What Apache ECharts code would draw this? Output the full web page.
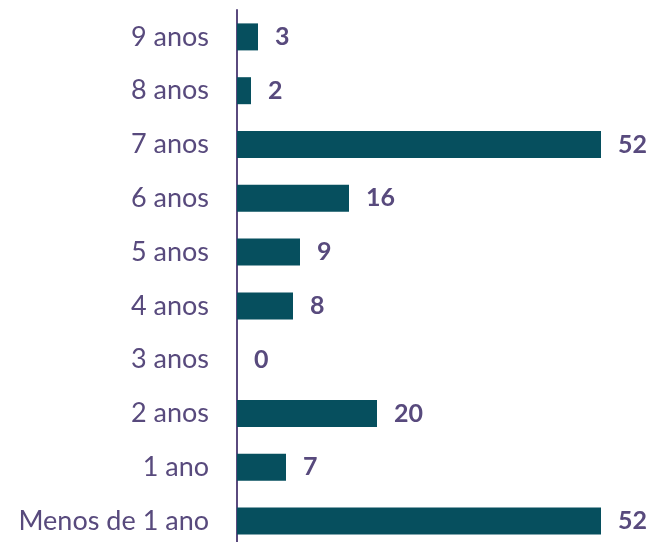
<!DOCTYPE html>
<html>
<head>
<meta charset="utf-8">
<style>
  html, body { margin: 0; padding: 0; background: #ffffff; }
  #chart { width: 648px; height: 542px; }
</style>
<script src="https://cdn.jsdelivr.net/npm/echarts@6/dist/echarts.min.js"></script>
</head>
<body>
<div id="chart"></div>
<script>
// Categories listed bottom to top
const categories = ['Menos de 1 ano', '1 ano', '2 anos', '3 anos', '4 anos', '5 anos', '6 anos', '7 anos', '8 anos', '9 anos'];
const values = [52, 7, 20, 0, 8, 9, 16, 52, 2, 3];

const barColor = '#064f5e';
const textColor = '#584a7d';
const fontFamily = 'Lato, "Open Sans", sans-serif';

const chart = echarts.init(document.getElementById('chart'), null, { renderer: 'canvas' });
chart.setOption({
  animation: false,
  grid: { left: 237, top: 10, width: 385, height: 538, outerBoundsMode: 'none', containLabel: false },
  xAxis: {
    type: 'value', min: 0, max: 55,
    show: false
  },
  yAxis: {
    type: 'category',
    data: categories,
    axisLine: { show: true, lineStyle: { color: '#5a4a7e', width: 2 } },
    axisTick: { show: false },
    axisLabel: { color: textColor, fontSize: 27, fontFamily: fontFamily, margin: 28 }
  },
  series: [{
    type: 'bar',
    data: values,
    barWidth: 27,
    itemStyle: { color: barColor },
    label: {
      show: true, position: 'right', distance: 17,
      color: textColor, fontSize: 25, fontWeight: 'bold', fontFamily: fontFamily
    }
  }]
});
</script>
</body>
</html>
